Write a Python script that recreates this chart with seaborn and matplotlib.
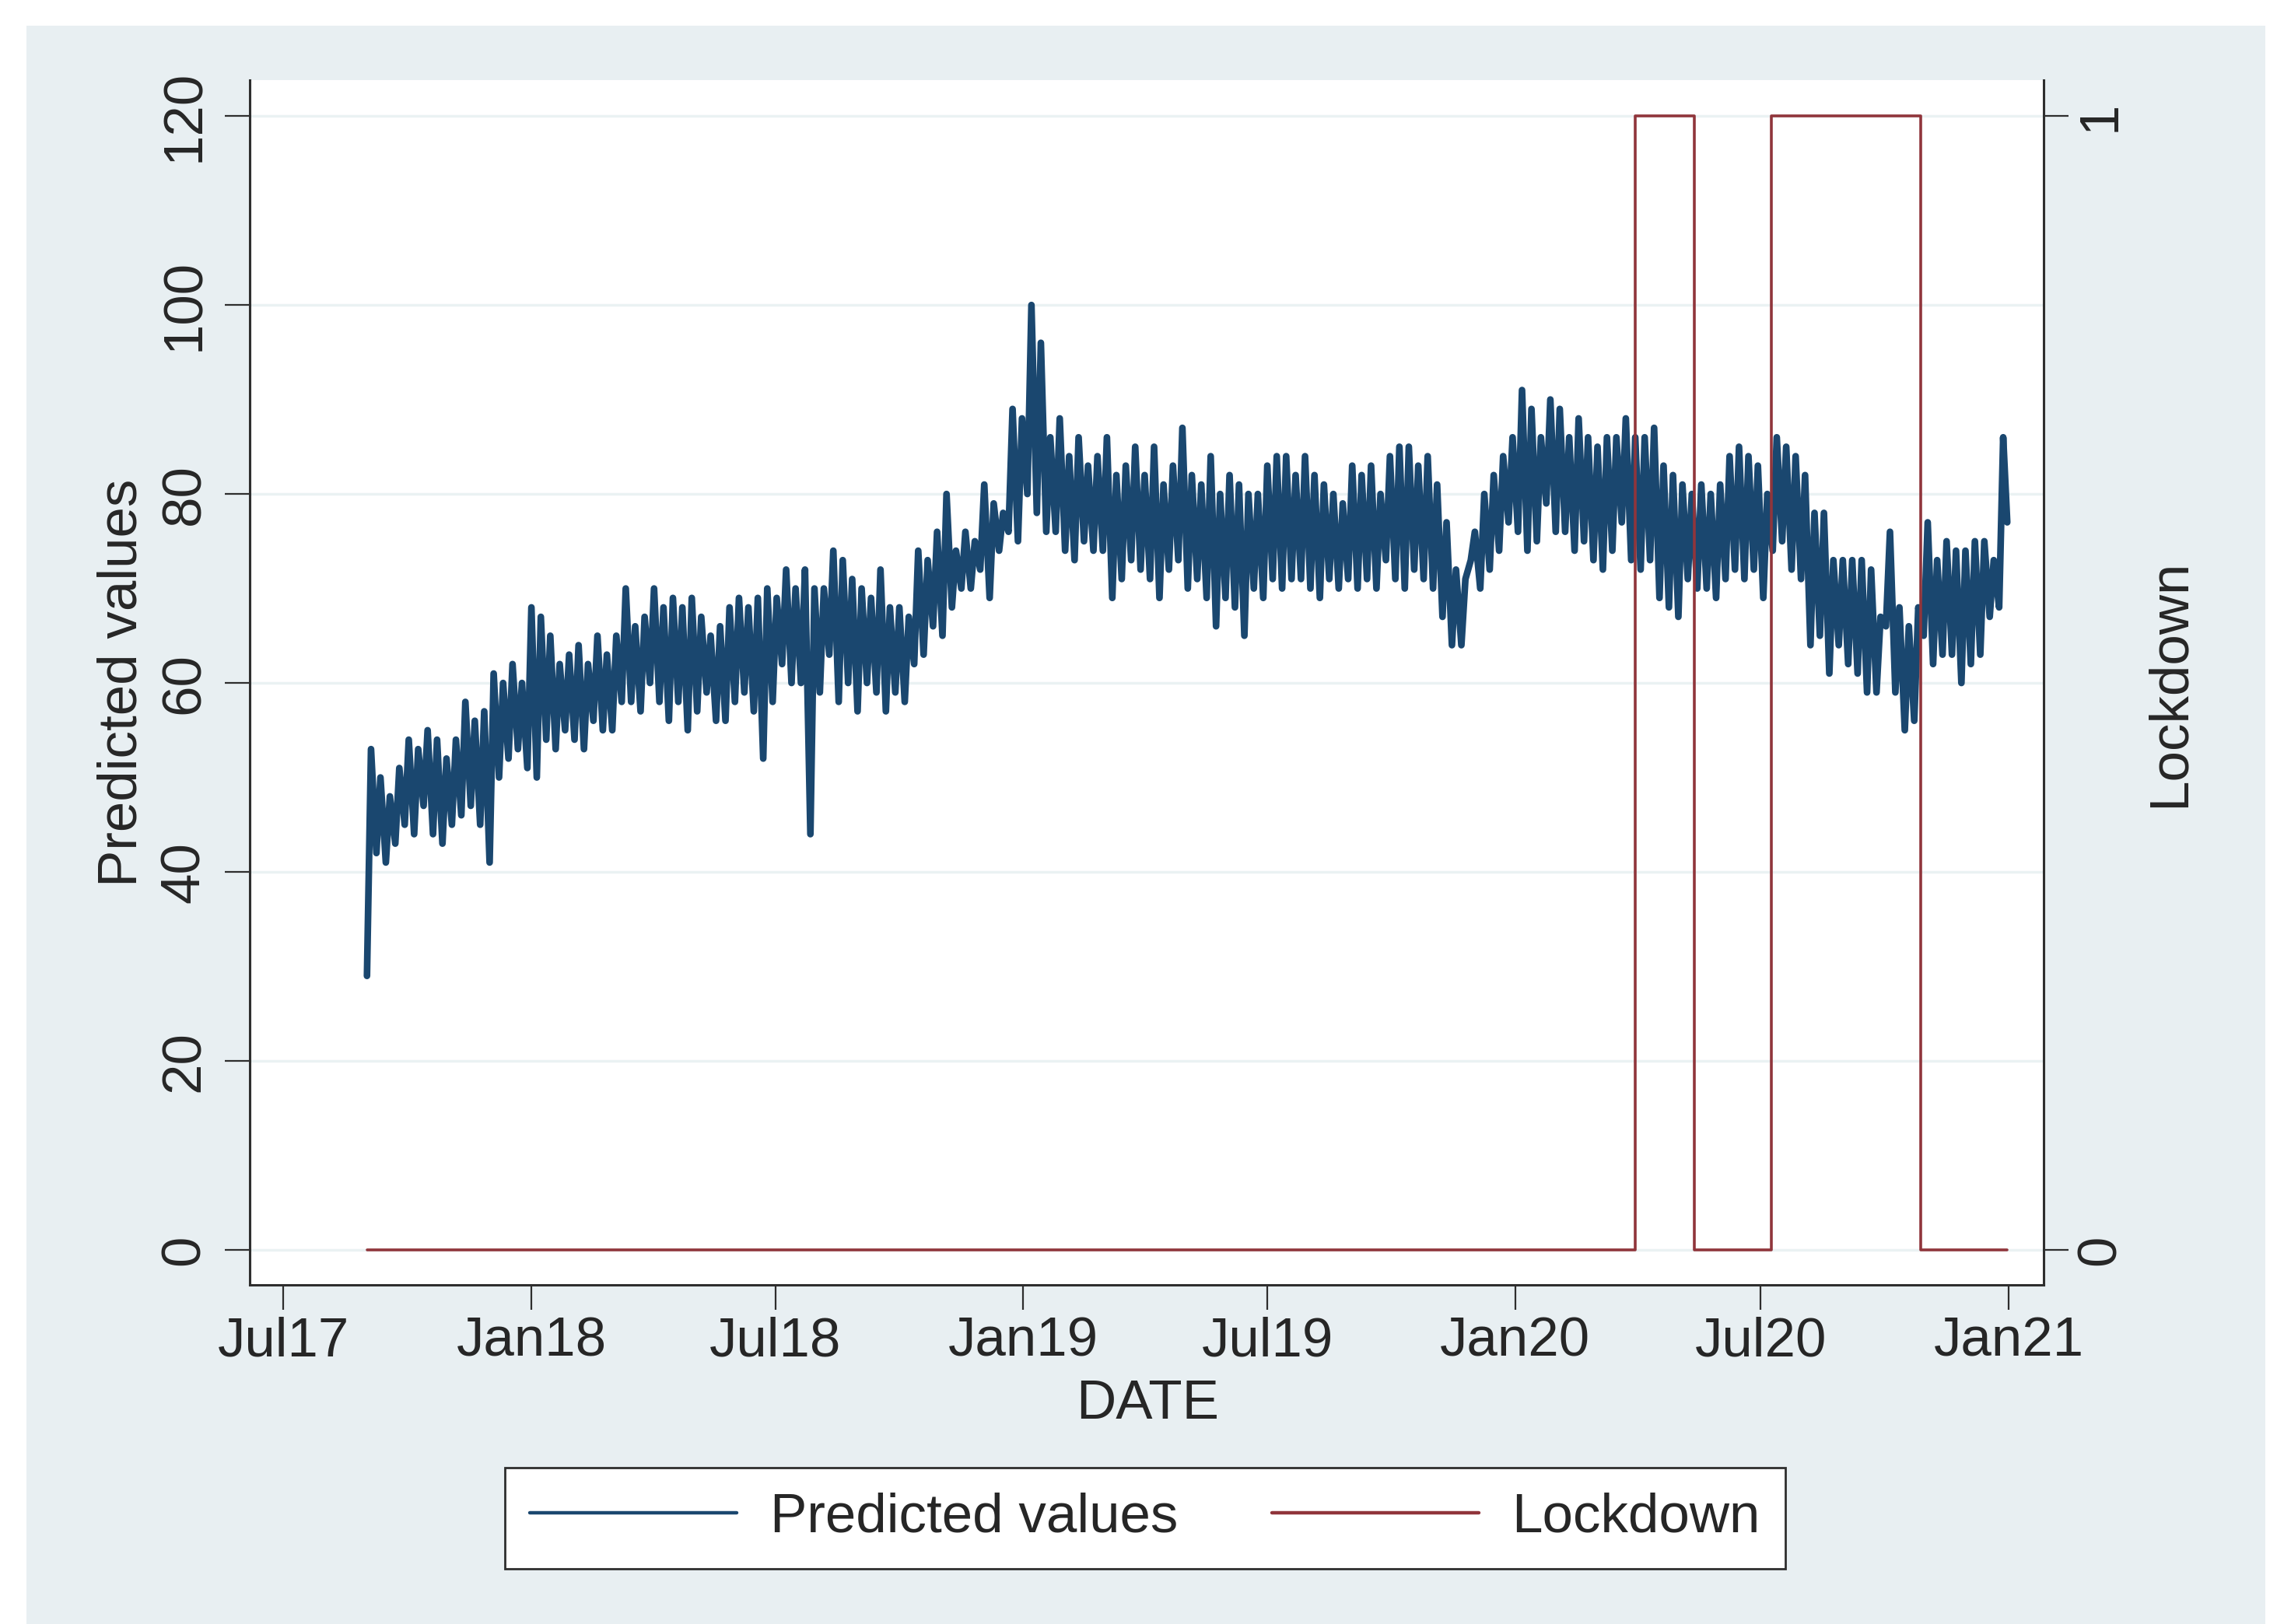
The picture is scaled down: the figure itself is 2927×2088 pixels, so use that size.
import matplotlib.pyplot as plt
import matplotlib.dates as mdates
import pandas as pd
import seaborn as sns
from matplotlib.patches import Rectangle

# weekly trough / peak of the predicted series
week_low = [
    29, 42, 41, 43, 45, 44, 47, 44, 43, 45,
    46, 47, 45, 41, 50, 52, 53, 51, 50, 54,
    53, 55, 54, 53, 56, 55, 55, 58, 58, 57,
    60, 58, 56, 58, 55, 57, 59, 56, 56, 58,
    59, 57, 52, 58, 62, 60, 60, 44, 59, 63,
    58, 60, 57, 60, 59, 57, 59, 58, 62, 63,
    66, 65, 68, 70, 70, 72, 69, 74, 76, 75,
    80, 78, 76, 76, 74, 73, 75, 74, 74, 69,
    71, 73, 72, 71, 69, 72, 73, 70, 71, 69,
    66, 69, 68, 65, 70, 69, 71, 70, 71, 71,
    70, 69, 71, 70, 71, 70, 71, 70, 73, 71,
    70, 72, 71, 70, 67, 64, 64, 73, 70, 72,
    74, 77, 76, 74, 75, 79, 76, 76, 74, 75,
    73, 72, 74, 77, 73, 72, 73, 69, 68, 67,
    71, 70, 70, 69, 71, 72, 71, 72, 69, 74,
    75, 72, 71, 64, 65, 61, 64, 62, 61, 59,
    59, 66, 59, 55, 56, 65, 62, 63, 63, 60,
    62, 63, 67, 68,
]
week_high = [
    53, 50, 48, 51, 54, 53, 55, 54, 52, 54,
    58, 56, 57, 61, 60, 62, 60, 68, 67, 65,
    62, 63, 64, 62, 65, 63, 65, 70, 66, 67,
    70, 68, 69, 68, 69, 67, 65, 66, 68, 69,
    68, 69, 70, 69, 72, 70, 72, 70, 70, 74,
    73, 71, 70, 69, 72, 68, 68, 67, 74, 73,
    76, 80, 74, 76, 75, 81, 79, 78, 89, 88,
    100, 96, 86, 88, 84, 86, 83, 84, 86, 82,
    83, 85, 82, 85, 81, 83, 87, 82, 81, 84,
    80, 82, 81, 80, 80, 83, 84, 84, 82, 84,
    82, 81, 80, 79, 83, 82, 83, 80, 84, 85,
    85, 83, 84, 81, 77, 72, 71, 76, 80, 82,
    84, 86, 91, 89, 86, 90, 89, 86, 88, 86,
    85, 86, 86, 88, 86, 86, 87, 83, 82, 81,
    80, 81, 80, 81, 84, 85, 84, 83, 80, 86,
    85, 84, 82, 78, 78, 73, 73, 73, 73, 72,
    67, 76, 68, 66, 68, 77, 73, 75, 74, 74,
    75, 75, 73, 86,
]
last_value = 77
series_start = '2017-09-01'
series_end = '2020-12-31'

# lockdown dummy, change points
lockdown_dates = ['2017-09-01', '2020-03-30', '2020-05-13', '2020-07-09', '2020-10-28', '2020-12-31']
lockdown_values = [0, 1, 0, 1, 0, 0]

tick_dates = ['2017-07-01', '2018-01-01', '2018-07-01', '2019-01-01',
              '2019-07-01', '2020-01-01', '2020-07-01', '2021-01-01']

# put the weekly troughs/peaks on the calendar
start = pd.Timestamp(series_start)
dates, values = [], []
for i, (lo, hi) in enumerate(zip(week_low, week_high)):
    dates += [start + pd.Timedelta(days=7 * i), start + pd.Timedelta(days=7 * i + 3)]
    values += [lo, hi]
dates.append(pd.Timestamp(series_end))
values.append(last_value)
df = pd.DataFrame({'DATE': dates, 'pred': values})
df_lock = pd.DataFrame({'DATE': pd.to_datetime(lockdown_dates), 'lockdown': lockdown_values})

sns.set_style('white')
plt.rcParams['font.family'] = ['Liberation Sans', 'DejaVu Sans']

W, H = 2927, 2088
FS = 51
axis_col = '#2e2e2e'

fig = plt.figure(figsize=(W / 100, H / 100), dpi=100, facecolor='white')
fig.patches.append(Rectangle((34 / W, 0), (2912 - 34) / W, 1 - 33 / H, transform=fig.transFigure,
                             facecolor='#e8eff2', edgecolor='none', zorder=-10))

ax = fig.add_axes([321 / W, 1 - 1652 / H, (2627 - 321) / W, (1652 - 103) / H])
ax.set_facecolor('white')
sns.lineplot(data=df, x='DATE', y='pred', ax=ax, color='#1a476f', linewidth=6.2, legend=False)

ax2 = ax.twinx()
sns.lineplot(data=df_lock, x='DATE', y='lockdown', ax=ax2, color='#90353b', linewidth=2.6,
             drawstyle='steps-post', legend=False)

# x axis
ax.set_xlim(pd.Timestamp('2017-06-06'), pd.Timestamp('2021-01-27'))
ax.set_xticks(pd.to_datetime(tick_dates))
ax.xaxis.set_major_formatter(mdates.DateFormatter('%b%y'))
ax.tick_params(axis='x', length=23, width=1.6, pad=6, labelsize=FS, color=axis_col, direction='out',
               bottom=True)

# left axis
ax.set_ylim(-3.7, 123.8)
ax.set_yticks(range(0, 121, 20))
ax.tick_params(axis='y', length=23, width=1.6, pad=13, labelsize=FS, color=axis_col,
               direction='out', labelrotation=90, left=True)
plt.setp(ax.get_yticklabels(), va='center')
ax.yaxis.grid(True, color='#eaf2f3', lw=2.5)
ax.set_axisbelow(True)

# right axis
ax2.set_ylim(-3.7 / 120, 123.8 / 120)
ax2.set_yticks([0, 1])
ax2.tick_params(axis='y', length=23, width=1.6, pad=6, labelsize=FS, color=axis_col,
                direction='out', labelrotation=90, right=True)
plt.setp(ax2.get_yticklabels(), va='center')

ax.set_xlabel('')
ax.set_ylabel('')
ax2.set_ylabel('')

for a in (ax, ax2):
    for s in a.spines.values():
        s.set_visible(False)
        s.set_color(axis_col)
        s.set_linewidth(2.2)
ax.spines['left'].set_visible(True)
ax.spines['bottom'].set_visible(True)
ax2.spines['right'].set_visible(True)

fig.text(158 / W, 1 - 878 / H, 'Predicted values', rotation=90, ha='center', va='center', fontsize=FS)
fig.text(2790 / W, 1 - 878 / H, 'Lockdown', rotation=90, ha='center', va='center', fontsize=FS)
fig.text(1475 / W, 1 - 1806 / H, 'DATE', ha='center', va='center', fontsize=FS)

leg = fig.legend([ax.lines[0], ax2.lines[0]], ['Predicted values', 'Lockdown'],
                 loc='center', bbox_to_anchor=(1472 / W, 1 - 1952 / H), ncol=2, fontsize=FS,
                 frameon=True, fancybox=False, edgecolor=axis_col, framealpha=1,
                 handlelength=3.76, handletextpad=0.6, columnspacing=1.7, borderpad=0.45)
leg.get_frame().set_linewidth(2)
for h in leg.get_lines():
    h.set_linewidth(3.2)

fig.savefig('out.png', dpi=100)
